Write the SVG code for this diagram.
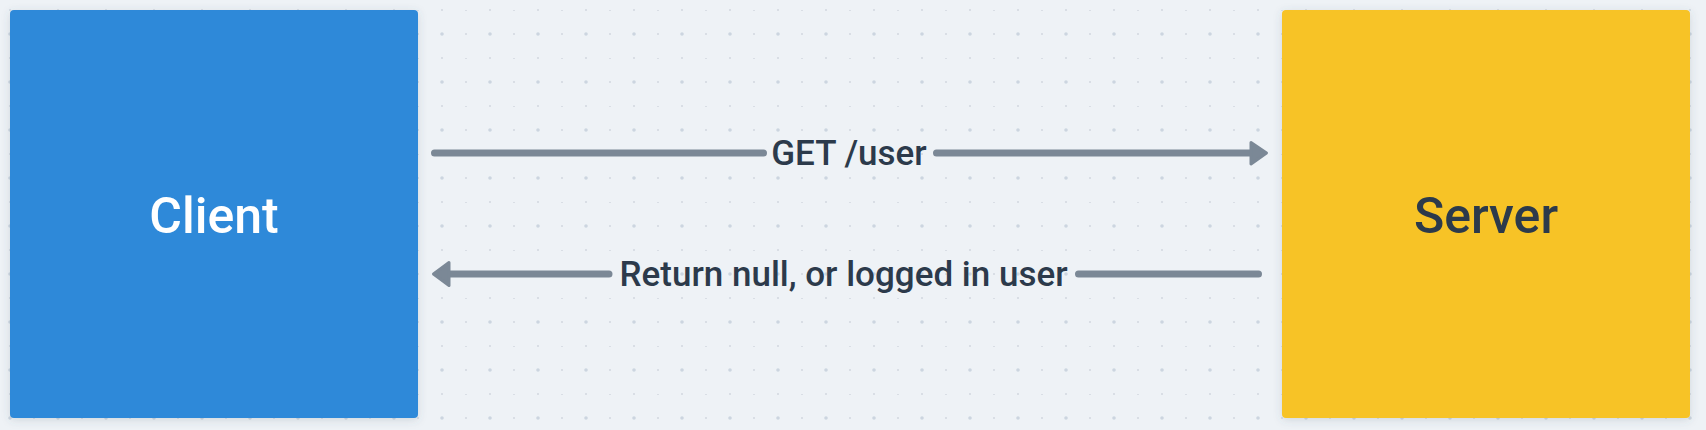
<svg xmlns="http://www.w3.org/2000/svg" width="1706" height="430" viewBox="0 0 1706 430">
  <style>
    .node-label { font-family: Roboto, "Noto Sans", "Liberation Sans", sans-serif; font-size: 50px; font-weight: 500; text-anchor: middle; }
    .edge-label { font-family: Roboto, "Noto Sans", "Liberation Sans", sans-serif; font-size: 35px; font-weight: 500; text-anchor: middle; fill: #2c3a4b; }
    .edge { fill: none; stroke: #7b8896; stroke-width: 7; stroke-linecap: round; }
    .head { fill: #7b8896; stroke: #7b8896; stroke-width: 3; stroke-linejoin: round; }
  </style>
  <defs>
    <pattern id="grid" x="10" y="10" width="48" height="48" patternUnits="userSpaceOnUse">
      <rect x="-0.7" y="-0.7" width="1.4" height="1.4" fill="#c3cad4"/>
      <rect x="23.3" y="-0.7" width="1.4" height="1.4" fill="#c3cad4"/>
      <rect x="23.3" y="23.3" width="1.4" height="1.4" fill="#c3cad4"/>
      <circle cx="0" cy="24" r="1.8" fill="#ccd5e0"/>
      <rect x="47.3" y="-0.7" width="1.4" height="1.4" fill="#c3cad4"/>
      <rect x="-0.7" y="47.3" width="1.4" height="1.4" fill="#c3cad4"/>
      <rect x="47.3" y="47.3" width="1.4" height="1.4" fill="#c3cad4"/>
      <circle cx="48" cy="24" r="1.8" fill="#ccd5e0"/>
    </pattern>
    <filter id="shadow" x="-10%" y="-10%" width="120%" height="120%">
      <feDropShadow dx="0" dy="2" stdDeviation="4" flood-color="#4a5a70" flood-opacity="0.18"/>
    </filter>
  </defs>
  <rect width="1706" height="430" fill="#eef2f6"/>
  <rect width="1706" height="430" fill="url(#grid)"/>

  <g id="client">
    <rect x="10" y="10" width="408" height="408" rx="4" fill="#2e89d9" filter="url(#shadow)"/>
    <text class="node-label" x="214" y="233" fill="#ffffff">Client</text>
  </g>

  <g id="server">
    <rect x="1282" y="10" width="408" height="408" rx="4" fill="#f7c325" filter="url(#shadow)"/>
    <text class="node-label" x="1486" y="233" fill="#2c3a4b">Server</text>
  </g>

  <g id="connectors">
    <g id="edge-get">
      <path class="edge" d="M434.5,153 L763.5,153 M936.5,153 L1252,153"/>
      <polygon class="head" points="1251,142.5 1266.5,153 1251,164"/>
      <text class="edge-label" x="849" y="165">GET /user</text>
    </g>
    <g id="edge-return">
      <path class="edge" d="M448,274 L609,274 M1078.5,274 L1258.5,274"/>
      <polygon class="head" points="449,262.5 433.5,274 449,285.5"/>
      <text class="edge-label" x="843.5" y="286">Return null, or logged in user</text>
    </g>
  </g>
</svg>
